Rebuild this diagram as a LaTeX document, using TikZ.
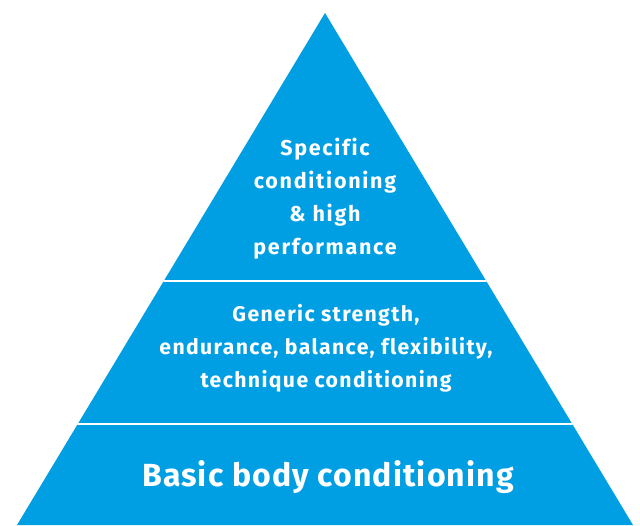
\documentclass[tikz,border=0pt]{standalone}
\usepackage{fontspec}
\setmainfont{Fira Sans}[BoldFont={Fira Sans Bold}]
\newfontfamily\pyrfont{Fira Sans Bold}[LetterSpace=8,Ligatures=NoCommon]
\newfontfamily\pyrmidfont{Fira Sans Bold}[LetterSpace=6.5,Ligatures=NoCommon]
\newfontfamily\pyrbigfont{Fira Sans Bold}[LetterSpace=3.5,Ligatures=NoCommon]
\definecolor{pyrblue}{HTML}{009FE3}
\begin{document}
\begin{tikzpicture}[x=1pt,y=-1pt,
  lbl/.style={text=white,font=\pyrfont\fontsize{21.5}{33}\selectfont,align=center,inner sep=0pt},
  midlbl/.style={text=white,font=\pyrmidfont\fontsize{21.2}{33}\selectfont,align=center,inner sep=0pt},
  biglbl/.style={text=white,font=\pyrbigfont\fontsize{32}{36}\selectfont,inner sep=0pt},
  sep/.style={draw=white,line width=2.5pt}]
\useasboundingbox (0,0) rectangle (640,525);
\coordinate (apex) at (325,13);
\coordinate (bl) at (17,525);
\coordinate (br) at (633,525);
\fill[pyrblue] (apex) -- (bl) -- (br) -- cycle;
\begin{scope}
\clip (apex) -- (bl) -- (br) -- cycle;
\draw[sep] (0,281) coordinate (s1l) -- (640,281) coordinate (s1r);
\draw[sep] (0,424) coordinate (s2l) -- (640,424) coordinate (s2r);
\end{scope}
\node[lbl] (top) at (325,198.5) {Specific\\conditioning\\\& high\\performance};
\node[midlbl] (mid) at (326,348) {Generic strength,\\endurance, balance, flexibility,\\technique conditioning};
\node[biglbl] (bot) at (328,477) {Basic body conditioning};
\end{tikzpicture}
\end{document}
